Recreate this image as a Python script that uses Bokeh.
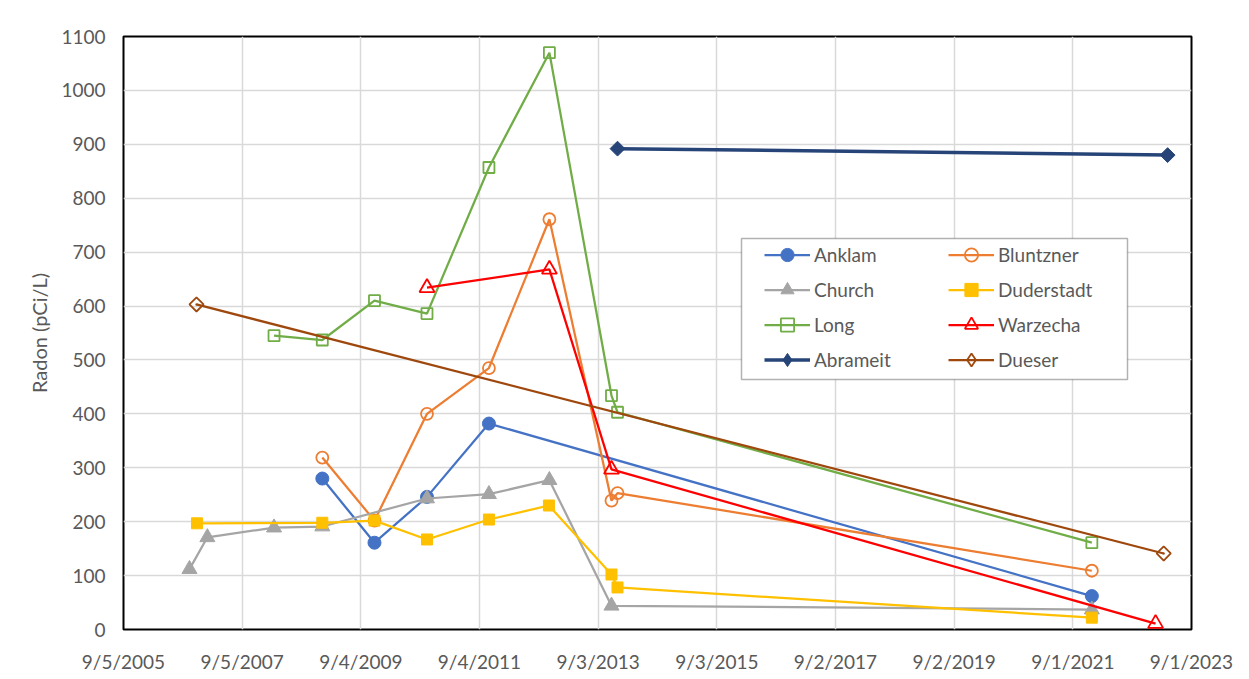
import numpy as np
import pandas as pd
from bokeh.plotting import figure
from bokeh.models import (Range1d, FixedTicker, Legend, LegendItem, BoxAnnotation,
                          ColumnDataSource)
from bokeh.embed import file_html
from bokeh.resources import INLINE

x_tick_labels = ["9/5/2005", "9/5/2007", "9/4/2009", "9/4/2011", "9/3/2013",
                 "9/3/2015", "9/2/2017", "9/2/2019", "9/1/2021", "9/1/2023"]
y_ticks = list(range(0, 1101, 100))

anklam_dates = ["2009-01-10", "2009-11-27", "2010-10-16", "2011-11-01", "2021-12-27"]
anklam_values = [280, 161, 246, 382, 62]

bluntzner_dates = ["2009-01-10", "2009-11-27", "2010-10-16", "2011-11-01", "2012-11-07",
                   "2013-11-24", "2013-12-31", "2021-12-27"]
bluntzner_values = [319, 202, 400, 485, 761, 239, 253, 109]

church_dates = ["2006-10-16", "2007-02-03", "2008-03-19", "2009-01-10", "2010-10-16",
                "2011-11-01", "2012-11-07", "2013-11-24", "2021-12-27"]
church_values = [112, 171, 189, 191, 243, 251, 277, 44, 37]

duderstadt_dates = ["2006-12-01", "2009-01-10", "2009-11-27", "2010-10-16", "2011-11-01",
                    "2012-11-04", "2013-11-24", "2013-12-31", "2021-12-27"]
duderstadt_values = [197, 198, 202, 167, 204, 230, 102, 78, 22]

long_dates = ["2008-03-19", "2009-01-10", "2009-11-27", "2010-10-16", "2011-11-01",
              "2012-11-07", "2013-11-24", "2013-12-31", "2021-12-27"]
long_values = [545, 537, 610, 586, 857, 1070, 434, 403, 161]

warzecha_dates = ["2010-10-16", "2012-11-07", "2013-11-24", "2023-01-23"]
warzecha_values = [634, 668, 297, 11]

abrameit_dates = ["2013-12-31", "2023-04-07"]
abrameit_values = [892, 880]

dueser_dates = ["2006-11-28", "2023-03-14"]
dueser_values = [603, 141]

series_names = ["Anklam", "Bluntzner", "Church", "Duderstadt", "Long", "Warzecha", "Abrameit", "Dueser"]
series_data = [(anklam_dates, anklam_values), (bluntzner_dates, bluntzner_values),
               (church_dates, church_values), (duderstadt_dates, duderstadt_values),
               (long_dates, long_values), (warzecha_dates, warzecha_values),
               (abrameit_dates, abrameit_values), (dueser_dates, dueser_values)]

# style: color, marker, filled, size, angle, line width, legend marker
styles = {
    "Anklam":     ("#4472C4", "circle",   True,  13, 0.0, 2.25, "circle"),
    "Bluntzner":  ("#ED7D31", "circle",   False, 12, 0.0, 2.25, "circle"),
    "Church":     ("#A5A5A5", "triangle", True,  15, 0.0, 2.25, "triangle"),
    "Duderstadt": ("#FFC000", "square",   True,  11, 0.0, 2.25, "square"),
    "Long":       ("#70AD47", "square",   False, 11, 0.0, 2.25, "square"),
    "Warzecha":   ("#FF0000", "triangle", False, 15, 0.0, 2.25, "triangle"),
    "Abrameit":   ("#264478", "square",   True,  10.5, np.pi / 4, 3.5, "diamond"),
    "Dueser":     ("#9E480E", "square",   False, 10, np.pi / 4, 2.25, "diamond"),
}

FONT = "Lato"
TXT = "#595959"

tick_dt = pd.to_datetime(x_tick_labels, format="%m/%d/%Y")
tick_ms = [float(v) / 1e6 for v in tick_dt.astype("int64")]

p = figure(width=1249, height=679, x_axis_type="datetime",
           x_range=Range1d(tick_ms[0], tick_ms[-1]), y_range=Range1d(0, 1100),
           output_backend="svg", toolbar_location=None,
           min_border_left=123, min_border_right=58, min_border_top=36, min_border_bottom=50)

p.outline_line_color = "black"
p.outline_line_width = 2
p.background_fill_color = "white"
p.border_fill_color = "white"

p.xaxis.ticker = FixedTicker(ticks=tick_ms)
p.xaxis.major_label_overrides = dict(zip(tick_ms, x_tick_labels))
p.yaxis.ticker = FixedTicker(ticks=y_ticks)

for ax in (p.xaxis, p.yaxis):
    ax.axis_line_color = None
    ax.major_tick_line_color = None
    ax.minor_tick_line_color = None
    ax.major_tick_out = 0
    ax.major_tick_in = 0
    ax.major_label_text_font = FONT
    ax.major_label_text_font_size = "19px"
    ax.major_label_text_color = TXT
    ax.major_label_standoff = 18

p.xaxis.major_label_standoff = 20

p.yaxis.axis_label = "Radon (pCi/L)"
p.yaxis.axis_label_text_font = FONT
p.yaxis.axis_label_text_font_size = "20px"
p.yaxis.axis_label_text_font_style = "normal"
p.yaxis.axis_label_text_color = TXT
p.yaxis.axis_label_standoff = 7

p.xgrid.grid_line_color = "#D9D9D9"
p.xgrid.grid_line_width = 1.5
p.ygrid.grid_line_color = "#D9D9D9"
p.ygrid.grid_line_width = 1.5

items = {}
for name, (d, v) in zip(series_names, series_data):
    color, marker, filled, size, angle, lw, lmarker = styles[name]
    src = ColumnDataSource(dict(x=pd.to_datetime(d), y=v))
    lr = p.line("x", "y", source=src, line_color=color, line_width=lw)
    mlw = 1.8 if not filled else 1
    fc = color if filled else None
    key = None
    if lmarker != marker:
        # tiny key glyph hidden under the real marker; the legend draws it at full key size
        key = p.scatter("x", "y", source=src, marker=lmarker, size=1,
                        line_color=color, line_width=mlw, fill_color=fc)
    sr = p.scatter("x", "y", source=src, marker=marker, size=size, angle=angle,
                   line_color=color, line_width=mlw, fill_color=fc)
    items[name] = LegendItem(label=name, renderers=[lr, key if key is not None else sr])

box = BoxAnnotation(left=741, right=1127, top=238, bottom=379,
                    left_units="canvas", right_units="canvas",
                    top_units="canvas", bottom_units="canvas",
                    fill_color="white", fill_alpha=1.0,
                    line_color="black", line_width=1.5)
p.add_layout(box, "center")

order = ["Anklam", "Church", "Long", "Abrameit", "Bluntzner", "Duderstadt", "Warzecha", "Dueser"]
legend = Legend(items=[items[n] for n in order], location=(641, 253),
                orientation="vertical", ncols=2, nrows=4,
                glyph_width=46, glyph_height=33, label_height=25, label_width=132,
                label_standoff=4, spacing=2, padding=5, margin=0,
                border_line_color=None, background_fill_alpha=0.0,
                label_text_font=FONT, label_text_font_size="19px", label_text_color=TXT)
p.add_layout(legend, "center")

open("out.html", "w").write(file_html(p, INLINE))
